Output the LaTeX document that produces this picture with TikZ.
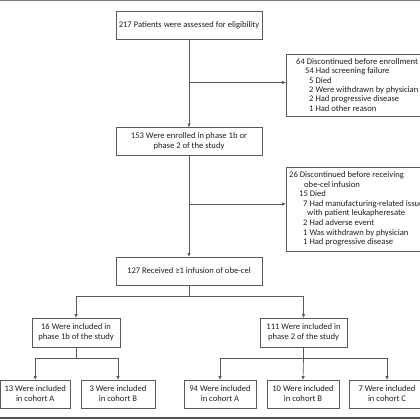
\documentclass[tikz,border=0pt]{standalone}
\usepackage{fontspec}
\setmainfont{Carlito}
\usetikzlibrary{arrows.meta}
\definecolor{ln}{HTML}{5A5A5A}
\definecolor{tx}{HTML}{231F20}
\begin{document}
\begin{tikzpicture}[x=1pt,y=-1pt,
  bx/.style={draw=ln,line width=0.7pt,fill=white,inner sep=0pt,align=center,text=tx,font=\fontsize{8.6}{10}\selectfont},
  ln1/.style={anchor=base west,inner sep=0pt,text=tx,font=\fontsize{8.6}{10}\selectfont},
  arr/.style={draw=ln,line width=0.7pt,-{Triangle[length=3.5pt,width=3pt]}},
  con/.style={draw=ln,line width=0.7pt}]
\useasboundingbox (0,0) rectangle (420,420);
\clip (0,0) rectangle (420,420);
\fill[white] (0,0) rectangle (420,420);
% rules
\draw[color=ln!80,line width=1.2pt] (0,0.6) -- (420,0.6);
\draw[color=ln!90!black,line width=2.2pt] (0,417.8) -- (420,417.8);
% main column
\node[bx,minimum width=146pt,minimum height=28pt] (n217) at (189,25) {217 Patients were assessed for eligibility};
\node[bx,minimum width=146pt,minimum height=28pt] (n153) at (189,141.5) {153 Were enrolled in phase 1b or\\phase 2 of the study};
\node[bx,minimum width=146pt,minimum height=28pt] (n127) at (189,271) {127 Received ≥1 infusion of obe-cel};
% exclusion boxes
\node[bx,minimum width=140pt,minimum height=62pt] (ex1) at (356,85) {};
\node[bx,minimum width=140pt,minimum height=84pt] (ex2) at (356,209) {};
\node[ln1] (e1a) at (296,64.5) {64 Discontinued before enrollment};
\node[ln1] (e1b) at (305,73.8) {54 Had screening failure};
\node[ln1] (e1c) at (309,83.1) {5 Died};
\node[ln1] (e1d) at (309,92.4) {2 Were withdrawn by physician};
\node[ln1] (e1e) at (309,101.7) {2 Had progressive disease};
\node[ln1] (e1f) at (309,111) {1 Had other reason};
\node[ln1] (e2a) at (289,177.5) {26 Discontinued before receiving};
\node[ln1] (e2b) at (304,187.1) {obe-cel infusion};
\node[ln1] (e2c) at (299,196.7) {15 Died};
\node[ln1] (e2d) at (303,206.3) {7 Had manufacturing-related issues};
\node[ln1] (e2e) at (307,215.9) {with patient leukapheresate};
\node[ln1] (e2f) at (303,225.5) {2 Had adverse event};
\node[ln1] (e2g) at (303,235.1) {1 Was withdrawn by physician};
\node[ln1] (e2h) at (303,244.7) {1 Had progressive disease};
% phase boxes
\node[bx,minimum width=88pt,minimum height=29pt] (p1b) at (76,332.5) {16 Were included in\\phase 1b of the study};
\node[bx,minimum width=87pt,minimum height=29pt] (p2) at (303.5,332.5) {111 Were included in\\phase 2 of the study};
% cohort boxes
\node[bx,minimum width=69.5pt,minimum height=28pt] (cA1) at (35.2,394) {13 Were included\\in cohort A};
\node[bx,minimum width=74pt,minimum height=28pt] (cB1) at (118,394) {3 Were included\\in cohort B};
\node[bx,minimum width=72pt,minimum height=28pt] (cA2) at (220,394) {94 Were included\\in cohort A};
\node[bx,minimum width=72pt,minimum height=28pt] (cB2) at (303,394) {10 Were included\\in cohort B};
\node[bx,minimum width=76pt,minimum height=28pt] (cC2) at (387,394) {7 Were included\\in cohort C};
% connectors
\coordinate (j1) at (189,82.5);
\coordinate (j2) at (189,204);
\draw[arr] (n217.south) -- (n153.north);
\draw[arr] (j1) -- (ex1.west |- j1);
\draw[arr] (n153.south) -- (n127.north);
\draw[arr] (j2) -- (ex2.west |- j2);
\coordinate (j3) at (189,296);
\draw[con] (n127.south) -- (j3);
\draw[arr] (j3) -| (p1b.north);
\draw[arr] (j3) -| (p2.north);
\coordinate (j4) at (76,358);
\draw[con] (p1b.south) -- (j4);
\draw[arr] (j4) -| (cA1.north);
\draw[arr] (j4) -| (cB1.north);
\coordinate (j5) at (303.5,358);
\draw[con] (p2.south) -- (j5);
\draw[arr] (j5) -| (cA2.north);
\draw[arr] (j5) -- (cB2.north);
\draw[arr] (j5) -| (cC2.north);
\end{tikzpicture}
\end{document}
